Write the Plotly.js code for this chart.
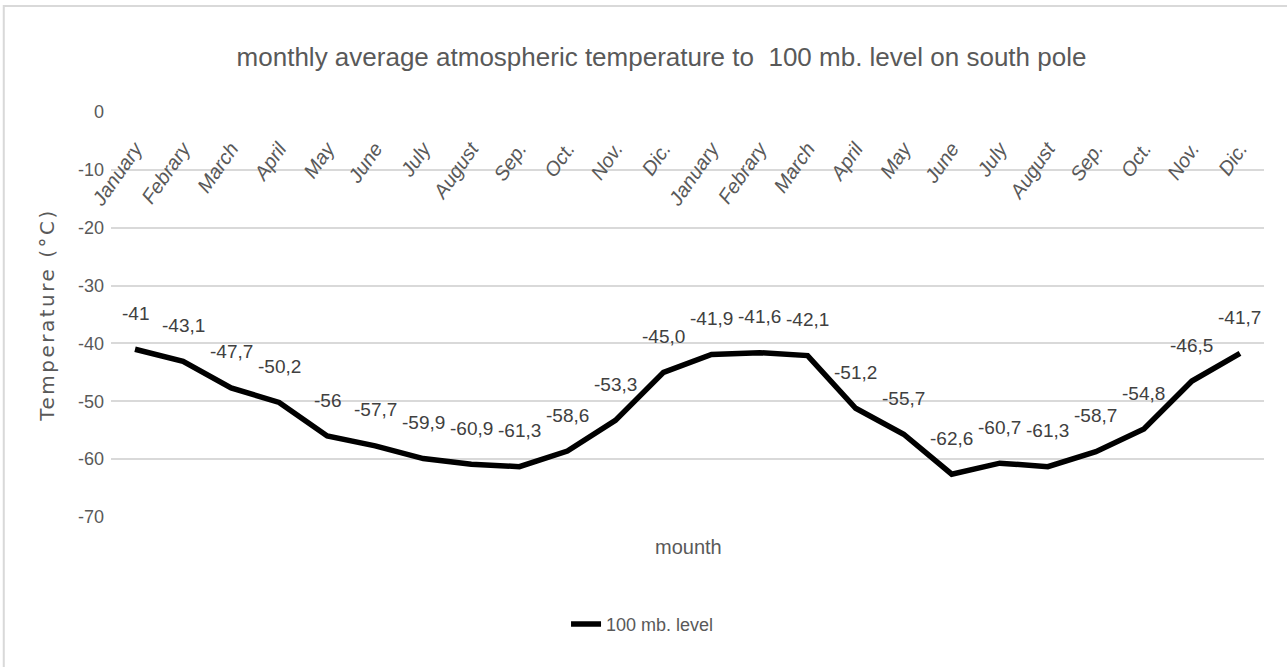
<!DOCTYPE html>
<html>
<head>
<meta charset="utf-8">
<script src="https://cdn.plot.ly/plotly-3.0.1.min.js"></script>
<style>
html,body{margin:0;padding:0;background:#fff;}
#chart{width:1287px;height:667px;}
#chart .ytitle{letter-spacing:2.5px;}
</style>
</head>
<body>
<div id="chart"></div>
<script>
var months = ["January","Febrary","March","April","May","June","July","August","Sep.","Oct.","Nov.","Dic.",
              "January","Febrary","March","April","May","June","July","August","Sep.","Oct.","Nov.","Dic."];
var temps = [-41, -43.1, -47.7, -50.2, -56, -57.7, -59.9, -60.9, -61.3, -58.6, -53.3, -45.0,
             -41.9, -41.6, -42.1, -51.2, -55.7, -62.6, -60.7, -61.3, -58.7, -54.8, -46.5, -41.7];
var labels = ["-41","-43,1","-47,7","-50,2","-56","-57,7","-59,9","-60,9","-61,3","-58,6","-53,3","-45,0",
              "-41,9","-41,6","-42,1","-51,2","-55,7","-62,6","-60,7","-61,3","-58,7","-54,8","-46,5","-41,7"];
var yTicks = [0, -10, -20, -30, -40, -50, -60, -70];
var seriesName = "100 mb. level";

var FONT = '"Liberation Sans", Arial, sans-serif';
var idx = months.map(function(_, i){ return i; });

var trace = {
  x: idx, y: temps, type: 'scatter', mode: 'lines', name: seriesName,
  line: {color: '#000000', width: 5.5}, hoverinfo: 'skip'
};

var annotations = idx.map(function(i){
  return {x: i, y: temps[i], xref: 'x', yref: 'y', text: labels[i], showarrow: false,
          yshift: 36, font: {family: FONT, size: 19, color: '#404040'}};
});
annotations.push({text: 'mounth', xref: 'paper', yref: 'paper', x: 0.501, y: -0.075, showarrow: false,
  xanchor: 'center', yanchor: 'middle', font: {family: FONT, size: 20, color: '#595959'}});

var layout = {
  width: 1287, height: 667,
  margin: {l: 111, r: 23, t: 112, b: 150},
  paper_bgcolor: '#ffffff', plot_bgcolor: '#ffffff',
  title: {text: 'monthly average atmospheric temperature to \u00a0100 mb. level on south pole',
          x: 0.514, xref: 'container', xanchor: 'center', y: 0.914, yref: 'container', yanchor: 'middle',
          font: {family: FONT, size: 26, color: '#595959'}},
  showlegend: true,
  legend: {orientation: 'h', x: 0.461, xanchor: 'center', xref: 'paper', y: -0.265, yanchor: 'middle',
           font: {family: FONT, size: 18, color: '#595959'}},
  xaxis: {
    range: [-0.5, 23.5], tickmode: 'array', tickvals: idx, ticktext: months,
    anchor: 'free', position: 1, side: 'bottom',
    tickangle: -55, ticks: 'outside', ticklen: 16, tickcolor: 'rgba(0,0,0,0)',
    showgrid: false, zeroline: false, showline: false,
    tickfont: {family: FONT, size: 20, color: '#595959', style: 'italic'}
  },
  yaxis: {
    range: [-70, 0], tickmode: 'array', tickvals: yTicks, ticktext: yTicks.map(String),
    showgrid: true, gridcolor: '#d9d9d9', gridwidth: 2, zeroline: false, showline: false,
    ticks: '', ticklabelstandoff: 6,
    tickfont: {family: FONT, size: 18, color: '#595959'},
    title: {text: 'Temperature (°C)', standoff: 17,
            font: {family: '"DejaVu Sans", sans-serif', size: 20, color: '#595959'}}
  },
  annotations: annotations,
  shapes: [{type: 'rect', xref: 'paper', yref: 'paper', x0: -0.093, x1: 1.03, y0: -0.4, y1: 1.262,
            line: {color: '#d9d9d9', width: 2}, fillcolor: 'rgba(0,0,0,0)', layer: 'below'}]
};

Plotly.newPlot('chart', [trace], layout, {displayModeBar: false, staticPlot: true});
</script>
</body>
</html>
